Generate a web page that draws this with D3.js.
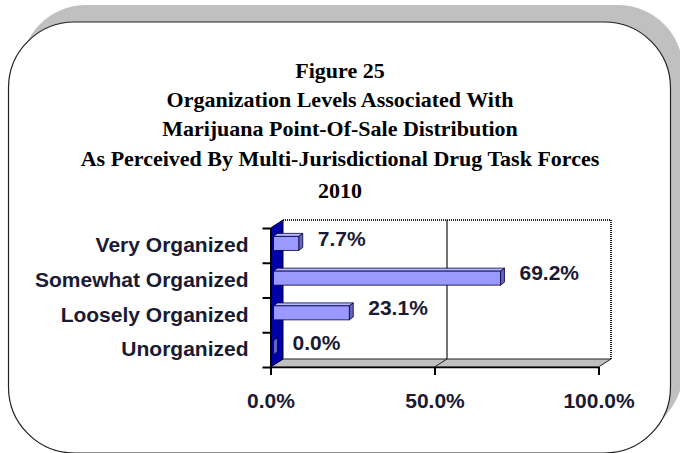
<!DOCTYPE html>
<html>
<head>
<meta charset="utf-8">
<script src="https://cdnjs.cloudflare.com/ajax/libs/d3/7.8.5/d3.min.js"></script>
<style>
  html, body { margin: 0; padding: 0; background: #fff; }
  svg { display: block; }
</style>
</head>
<body>
<script>
'use strict';

// chart data
const titleLines = [
  "Figure 25",
  "Organization Levels Associated With",
  "Marijuana Point-Of-Sale Distribution",
  "As Perceived By Multi-Jurisdictional Drug Task Forces",
  "2010"
];
const categories = ["Very Organized", "Somewhat Organized", "Loosely Organized", "Unorganized"];
const values = [7.7, 69.2, 23.1, 0.0];
const xTicks = [0, 50, 100];

(function() {
  const W = 680, H = 453;
  const svg = d3.select('body').append('svg')
    .attr('width', W)
    .attr('height', H);

  // frame: grey shadow and white rounded box
  svg.append('rect')
    .attr('x', 21).attr('y', 5)
    .attr('width', 662).attr('height', 431)
    .attr('rx', 65).attr('ry', 65)
    .attr('fill', '#c0c0c0');
  svg.append('rect')
    .attr('x', 8.5).attr('y', 22)
    .attr('width', 662).attr('height', 431)
    .attr('rx', 66).attr('ry', 66)
    .attr('fill', '#fff')
    .attr('stroke', '#222')
    .attr('stroke-width', 1.2);

  // title
  const titleY = [78, 107, 136, 166, 198];
  svg.append('g').selectAll('text')
    .data(titleLines)
    .enter().append('text')
      .attr('x', 340)
      .attr('y', (d, i) => titleY[i])
      .attr('text-anchor', 'middle')
      .style('font-family', '"Liberation Serif", "Times New Roman", serif')
      .style('font-weight', 'bold')
      .style('font-size', '22px')
      .attr('fill', '#000')
      .text(d => d);

  // plot geometry (front plane) plus 3d depth offset
  const front = {x0: 270.5, x1: 598.5, y0: 228, y1: 367};
  const depth = {dx: 12.5, dy: -8};

  const x = d3.scaleLinear().domain([0, 100]).range([front.x0, front.x1]);
  const yBand = d3.scaleBand().domain(categories).range([front.y0, front.y1]).paddingInner(0).paddingOuter(0);
  const yEdge = d3.scaleLinear().domain([0, categories.length]).range([front.y0, front.y1]);

  const bx = v => x(v) + depth.dx;
  const by = v => v + depth.dy;

  // back wall
  svg.append('rect')
    .attr('x', bx(0)).attr('y', by(front.y0))
    .attr('width', bx(100) - bx(0)).attr('height', front.y1 - front.y0)
    .attr('fill', '#fff');

  // back wall gridlines
  svg.append('g').selectAll('line')
    .data(xTicks.filter(t => t > 0 && t < 100))
    .enter().append('line')
      .attr('x1', d => bx(d)).attr('x2', d => bx(d))
      .attr('y1', by(front.y0)).attr('y2', by(front.y1))
      .attr('stroke', '#444').attr('stroke-width', 1.5);

  // dotted top and right border of back wall
  svg.append('path')
    .attr('d', 'M' + bx(0) + ',' + by(front.y0) + 'H' + bx(100) + 'V' + by(front.y1))
    .attr('fill', 'none')
    .attr('stroke', '#222')
    .attr('stroke-width', 2)
    .attr('stroke-dasharray', '1,1');

  // floor
  svg.append('path')
    .attr('d', 'M' + x(0) + ',' + front.y1 + 'L' + x(100) + ',' + front.y1 +
               'L' + bx(100) + ',' + by(front.y1) + 'L' + bx(0) + ',' + by(front.y1) + 'Z')
    .attr('fill', '#c0c0c0')
    .attr('stroke', '#222')
    .attr('stroke-width', 1);
  svg.append('g').selectAll('line')
    .data(xTicks.filter(t => t > 0 && t < 100))
    .enter().append('line')
      .attr('x1', d => x(d)).attr('y1', front.y1)
      .attr('x2', d => bx(d)).attr('y2', by(front.y1))
      .attr('stroke', '#222').attr('stroke-width', 1);

  // left blue wall
  svg.append('path')
    .attr('d', 'M' + x(0) + ',' + front.y0 + 'L' + bx(0) + ',' + by(front.y0) +
               'L' + bx(0) + ',' + by(front.y1) + 'L' + x(0) + ',' + front.y1 + 'Z')
    .attr('fill', '#0000a8')
    .attr('stroke', '#000033')
    .attr('stroke-width', 1);

  // bars
  const barH = 14;
  const bOff = {dx: 3, dy: -2};   // bars sit a little behind the front plane
  const bDep = {dx: 4, dy: -3};
  const bars = svg.append('g').selectAll('g')
    .data(categories.map((c, i) => ({cat: c, val: values[i]})))
    .enter().append('g');

  const faceX0 = d => x(0) + bOff.dx;
  const faceX1 = d => x(d.val) + bOff.dx;
  const faceY0 = d => yBand(d.cat) + yBand.bandwidth() / 2 - barH / 2 + bOff.dy;

  // top face
  bars.append('path')
    .attr('d', d => {
      const x0 = faceX0(d), x1 = faceX1(d), y0 = faceY0(d);
      return 'M' + x0 + ',' + y0 + 'L' + (x0 + bDep.dx) + ',' + (y0 + bDep.dy) +
             'L' + (x1 + bDep.dx) + ',' + (y0 + bDep.dy) + 'L' + x1 + ',' + y0 + 'Z';
    })
    .attr('fill', '#b8b8ff').attr('stroke', '#000040').attr('stroke-width', 0.8);
  // side face
  bars.append('path')
    .attr('d', d => {
      const x1 = faceX1(d), y0 = faceY0(d);
      return 'M' + x1 + ',' + y0 + 'L' + (x1 + bDep.dx) + ',' + (y0 + bDep.dy) +
             'L' + (x1 + bDep.dx) + ',' + (y0 + barH + bDep.dy) + 'L' + x1 + ',' + (y0 + barH) + 'Z';
    })
    .attr('fill', '#6666b8').attr('stroke', '#000040').attr('stroke-width', 0.8);
  // front face
  bars.append('rect')
    .attr('x', faceX0)
    .attr('y', faceY0)
    .attr('width', d => Math.max(0, faceX1(d) - faceX0(d)))
    .attr('height', barH)
    .attr('fill', '#9999ff')
    .attr('stroke', '#000040')
    .attr('stroke-width', 0.8);

  // value labels
  svg.append('g').selectAll('text')
    .data(categories.map((c, i) => ({cat: c, val: values[i]})))
    .enter().append('text')
      .attr('x', d => x(d.val) + 22)
      .attr('y', d => yBand(d.cat) + yBand.bandwidth() / 2 - 7)
      .attr('dy', '0.35em')
      .style('font-family', '"Liberation Sans", Arial, sans-serif')
      .style('font-weight', 'bold')
      .style('font-size', '21px')
      .attr('fill', '#1a1a33')
      .text(d => d.val.toFixed(1) + '%');

  // left axis: line and ticks at band edges
  const leftTicks = d3.axisLeft(yEdge)
    .tickValues(d3.range(categories.length + 1))
    .tickFormat('')
    .tickSize(8)
    .tickSizeOuter(0);
  svg.append('g')
    .attr('transform', 'translate(' + x(0) + ',0)')
    .call(leftTicks)
    .call(g => g.selectAll('line').attr('stroke', '#000').attr('stroke-width', 2))
    .call(g => g.select('.domain').attr('stroke', '#000').attr('stroke-width', 1.5));

  // category labels
  const leftLabels = d3.axisLeft(yBand).tickSize(0).tickPadding(22);
  svg.append('g')
    .attr('transform', 'translate(' + x(0) + ',0)')
    .call(leftLabels)
    .call(g => g.select('.domain').remove())
    .call(g => g.selectAll('text')
      .style('font-family', '"Liberation Sans", Arial, sans-serif')
      .style('font-weight', 'bold')
      .style('font-size', '21px')
      .attr('fill', '#1a1a33'));

  // bottom axis
  const xAxis = d3.axisBottom(x)
    .tickValues(xTicks)
    .tickFormat(d => d.toFixed(1) + '%')
    .tickSize(8)
    .tickSizeOuter(0)
    .tickPadding(18);
  svg.append('g')
    .attr('transform', 'translate(0,' + front.y1 + ')')
    .call(xAxis)
    .call(g => g.select('.domain').attr('stroke', '#000').attr('stroke-width', 1.5))
    .call(g => g.selectAll('line').attr('stroke', '#000').attr('stroke-width', 2))
    .call(g => g.selectAll('text')
      .style('font-family', '"Liberation Sans", Arial, sans-serif')
      .style('font-weight', 'bold')
      .style('font-size', '21px')
      .attr('fill', '#1a1a33'));
})();
</script>
</body>
</html>
